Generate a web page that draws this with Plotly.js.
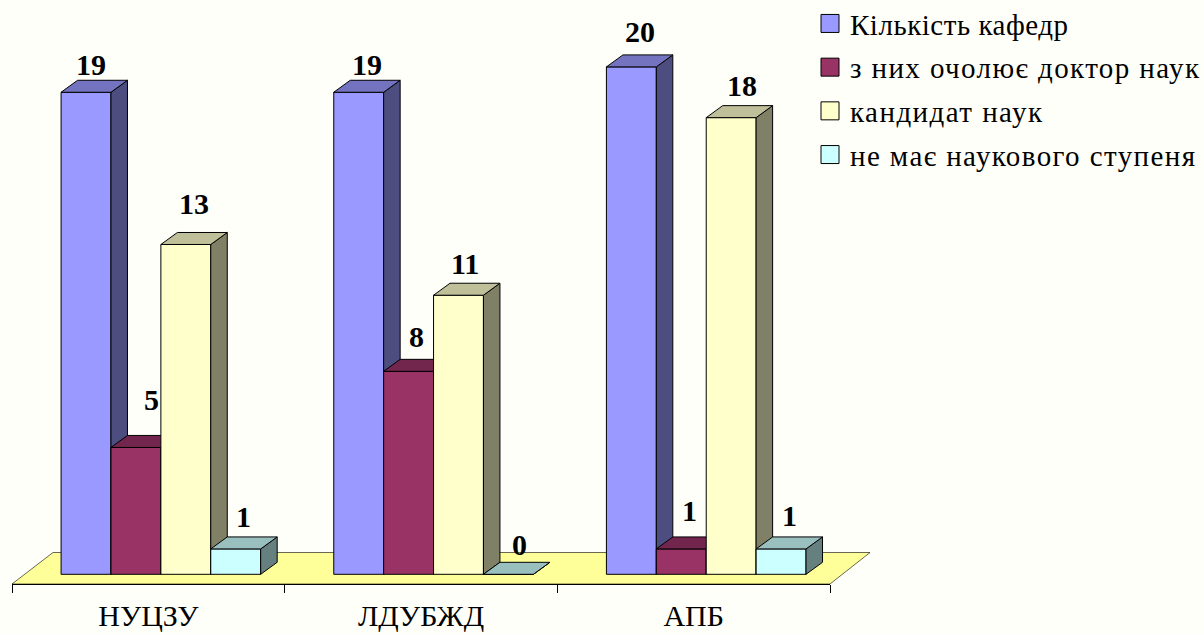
<!DOCTYPE html>
<html>
<head>
<meta charset="utf-8">
<script src="https://cdn.plot.ly/plotly-3.0.1.min.js"></script>
<style>html,body{margin:0;padding:0;background:#FFFFFA;overflow:hidden}</style>
</head>
<body>
<div id="chart" style="width:1204px;height:634px"></div>
<script>
const categories = ["НУЦЗУ", "ЛДУБЖД", "АПБ"];
const seriesNames = ["Кількість кафедр", "з них очолює доктор наук", "кандидат наук", "не має наукового ступеня"];
const departments = [19, 19, 20];
const headedByDoctor = [5, 8, 1];
const candidate = [13, 11, 18];
const noDegree = [1, 0, 1];
const seriesValues = [departments, headedByDoctor, candidate, noDegree];

const frontColors = ["#9999FF", "#993366", "#FFFFCC", "#CCFFFF"];
const sideColors = ["#4D4D80", "#4D1A33", "#808066", "#668080"];
const topColors = ["#7373BF", "#73264D", "#BFBF99", "#99BFBF"];

// label nudges in pixels (x shift, gap above the bar's back edge)
const labelShiftX = [[-3, 0, 0, 0], [7, 0, 0, 0], [0, -2, 3, 0], [0, 3, 0, 0]];
const labelGap = [[16, 16, 23], [36, 23, 26], [29, 20, 20], [20, 18, 21]];
const legendTextWidths = [218, 349, 192, 345];

const W = 1204, H = 634;
const pxPerCat = 272.67, pxPerUnit = 25.37, axisLeft = 12, axisRight = 830, axisY = 584, baseY = 574.3;
const depthX = 16.5 / pxPerCat, depthY = 12 / pxPerUnit;
const barW = 0.183, groupStart = 0.18;
const xRange = [-axisLeft / pxPerCat, (W - axisLeft) / pxPerCat];
const yRange = [-(H - baseY) / pxPerUnit, baseY / pxPerUnit];

const traces = [];
const annotations = [];

// axis-only subplot
traces.push({type: "scatter", mode: "lines", x: categories, y: [0, 0, 0], xaxis: "x", yaxis: "y",
  line: {width: 0, color: "rgba(0,0,0,0)"}, showlegend: false, hoverinfo: "skip"});

// floor (own subplot, beneath the bars)
const floorBottom = (baseY - axisY) / pxPerUnit, floorTop = (baseY - 552.5) / pxPerUnit;
traces.push({type: "scatter", mode: "lines", xaxis: "x2", yaxis: "y2", fill: "toself", fillcolor: "#FFFF99",
  x: [0, 3, (870 - axisLeft) / pxPerCat, (53 - axisLeft) / pxPerCat, 0],
  y: [floorBottom, floorBottom, floorTop, floorTop, floorBottom],
  line: {color: "#000", width: 0.6}, showlegend: false, hoverinfo: "skip"});

seriesValues.forEach((vals, s) => {
  const xa = "x" + (s + 3), ya = "y" + (s + 3);
  const xs = vals.map((_, i) => i + groupStart + s * barW);
  const sx = [], sy = [], tx = [], ty = [];
  vals.forEach((v, i) => {
    const l = xs[i], r = l + barW;
    sx.push(r, r + depthX, r + depthX, r, r, null);
    sy.push(0, depthY, v + depthY, v, 0, null);
    tx.push(l, l + depthX, r + depthX, r, l, null);
    ty.push(v, v + depthY, v + depthY, v, v, null);
    annotations.push({xref: xa, yref: ya, x: l + barW / 2 + depthX / 2, y: v + depthY,
      text: "<b>" + v + "</b>", showarrow: false, xanchor: "center", yanchor: "middle",
      xshift: labelShiftX[s][i], yshift: labelGap[s][i],
      font: {family: "Liberation Serif", size: 30, color: "#000"}});
  });
  traces.push({type: "scatter", mode: "lines", x: sx, y: sy, xaxis: xa, yaxis: ya, fill: "toself",
    fillcolor: sideColors[s], line: {color: "#000", width: 1}, showlegend: false, hoverinfo: "skip"});
  traces.push({type: "scatter", mode: "lines", x: tx, y: ty, xaxis: xa, yaxis: ya, fill: "toself",
    fillcolor: topColors[s], line: {color: "#000", width: 1}, showlegend: false, hoverinfo: "skip"});
  traces.push({type: "bar", name: seriesNames[s], legendgroup: "g" + s, x: xs, y: vals, xaxis: xa, yaxis: ya,
    width: barW, offset: 0, marker: {color: frontColors[s], line: {color: "#000", width: 1}}, hoverinfo: "skip"});
});

const fullAxis = (range, anchor) => ({domain: [0, 1], range, anchor, visible: false, fixedrange: true});
const layout = {
  width: W, height: H, margin: {l: 0, r: 0, t: 0, b: 0, autoexpand: false},
  paper_bgcolor: "#FFFFFA", plot_bgcolor: "rgba(0,0,0,0)",
  showlegend: true,
  font: {family: "Liberation Serif", color: "#000"},
  xaxis: {type: "category", categoryarray: categories, categoryorder: "array", range: [-0.5, 2.5],
    domain: [axisLeft / W, axisRight / W], anchor: "y", tickson: "boundaries", ticks: "outside", ticklen: 8,
    ticklabelstandoff: 5,
    tickcolor: "#000", tickwidth: 1, showline: true, linecolor: "#000", linewidth: 1, showgrid: false,
    zeroline: false, fixedrange: true, tickfont: {family: "Liberation Serif", size: 30, color: "#000"}},
  yaxis: {domain: [(H - axisY) / H, 1], anchor: "x", visible: false, fixedrange: true},
  legend: {x: 810 / W, y: 1.003, xanchor: "left", yanchor: "top", bgcolor: "rgba(0,0,0,0)", tracegroupgap: 3,
    font: {family: "Liberation Serif", size: 29, color: "#000"}, itemclick: false, itemdoubleclick: false},
  annotations
};
[2, 3, 4, 5, 6].forEach(k => {
  layout["xaxis" + k] = fullAxis(xRange, "y" + k);
  layout["yaxis" + k] = fullAxis(yRange, "x" + k);
});

Plotly.newPlot("chart", traces, layout, {displayModeBar: false}).then(gd => {
  gd.querySelectorAll(".legend .legendpoints path").forEach(p => {
    if ((p.getAttribute("d") || "").startsWith("M6,6")) p.setAttribute("d", "M9,9H-9V-9H9Z");
  });
  gd.querySelectorAll(".legend, .legend *").forEach(e => {
    e.removeAttribute("clip-path");
    if (e.style) e.style.clipPath = "";
  });
  gd.querySelectorAll(".legend text.legendtext").forEach((t, i) => {
    if (legendTextWidths[i]) {
      t.setAttribute("textLength", legendTextWidths[i]);
      t.setAttribute("lengthAdjust", "spacing");
    }
  });
});
</script>
</body>
</html>
